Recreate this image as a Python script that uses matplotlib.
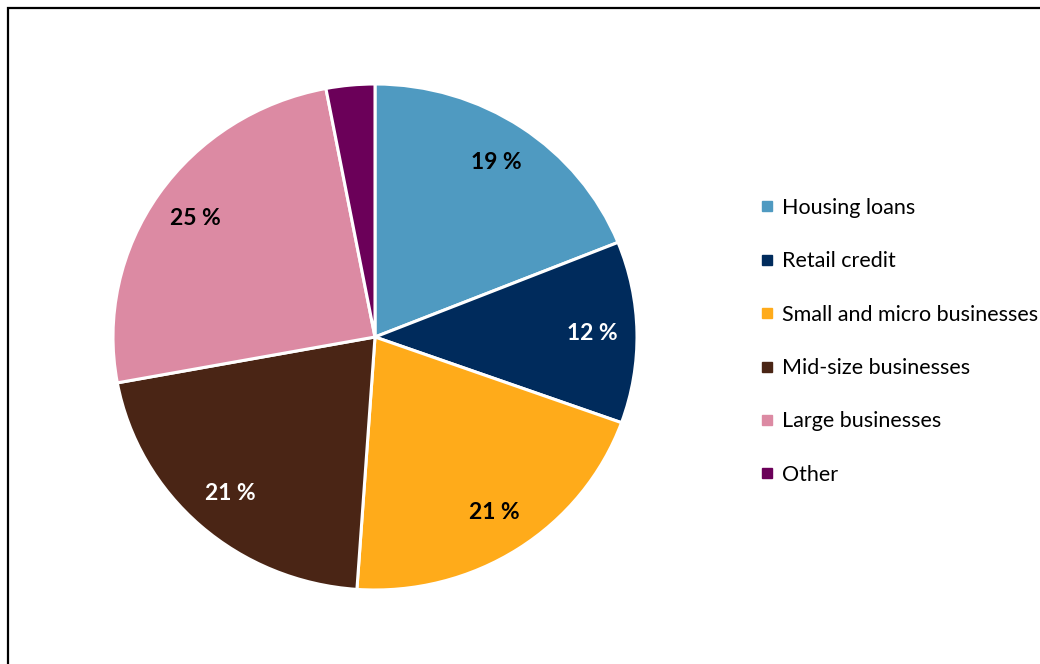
import matplotlib.pyplot as plt
from matplotlib.lines import Line2D
from matplotlib.patches import Rectangle

# dados
categorias = ["Housing loans", "Retail credit", "Small and micro businesses",
              "Mid-size businesses", "Large businesses", "Other"]
valores = [18.9, 11.6, 20.6, 21.0, 24.9, 3.0]
cores = ["#4F9AC1", "#002B5C", "#FFAB1A", "#4A2515", "#DC8AA3", "#6B0059"]
cor_texto = ["black", "white", "black", "white", "black", "white"]

plt.rcParams['font.family'] = ['Lato', 'DejaVu Sans']

fig = plt.figure(figsize=(10.4, 6.64), dpi=100)

# moldura
fig.patches.append(Rectangle((8 / 1040, -0.1), 1.2, 1 - 8 / 664 + 0.1,
                             transform=fig.transFigure, fill=False,
                             edgecolor="black", linewidth=1.6))

ax = fig.add_axes([113 / 1040, 74 / 664, 524 / 1040, 506 / 664])


def rotulo(p):
    return f"{p:.0f} %" if p >= 5 else ""


fatias, textos, pcts = ax.pie(valores, colors=cores, startangle=90, counterclock=False,
                              autopct=rotulo, pctdistance=0.83,
                              wedgeprops={"edgecolor": "white", "linewidth": 2.2},
                              textprops={"fontsize": 16.5, "fontweight": "bold"})
for t, c in zip(pcts, cor_texto):
    t.set_color(c)

ax.set_aspect("auto")
ax.set_xlim(-1, 1)
ax.set_ylim(-1, 1)
ax.axis("off")

handles = [Line2D([], [], marker="s", linestyle="none", markersize=7,
                  markerfacecolor=c, markeredgecolor=c) for c in cores]
fig.legend(handles, categorias, loc="upper left", bbox_to_anchor=(757 / 1040, 1 - 198 / 664),
           frameon=False, fontsize=15.5, labelspacing=1.55, handletextpad=0.25,
           handlelength=0.9, borderaxespad=0, borderpad=0)

plt.savefig("out.png", dpi=100)
